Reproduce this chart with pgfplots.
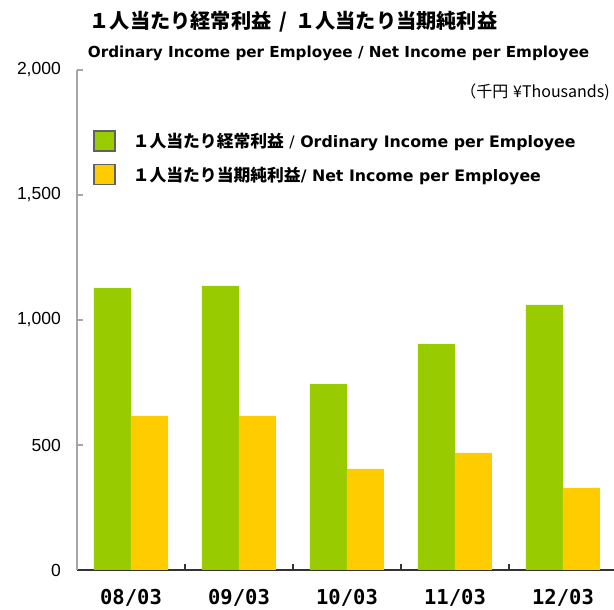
\documentclass[border=0pt]{standalone}
\usepackage{fontspec}
\setmainfont{DejaVu Sans}
\newfontfamily\jp{Noto Sans CJK JP}
\newfontfamily\mono{DejaVu Sans Mono}
\newfontfamily\lib{Liberation Sans}
\usepackage{pgfplots}
\pgfplotsset{compat=1.18}
\definecolor{cgreen}{HTML}{99CC00}
\definecolor{cyellow}{HTML}{FFCC00}
\begin{document}
\begin{tikzpicture}[x=1pt,y=1pt]
\useasboundingbox (0,0) rectangle (614,610);
\node[inner sep=0pt] at (293.5,588) {\jp\bfseries\fontsize{20.2}{20.2}\selectfont １人当たり経常利益\hspace{0.4em}/\hspace{0.4em}１人当たり当期純利益};
\node[inner sep=0pt] at (338.5,557) {\bfseries\fontsize{15.2}{15.2}\selectfont Ordinary Income per Employee / Net Income per Employee};
\node[inner sep=0pt, anchor=east] at (610,518) {\jp\fontsize{16}{16}\selectfont （千円\hspace{0.3em}¥Thousands)};
\begin{axis}[
  scale only axis, width=540pt, height=500pt,
  at={(77pt,40pt)}, anchor=south west,
  xmin=-0.5, xmax=4.5, ymin=0, ymax=2000,
  ybar=0pt, bar width=37pt,
  axis x line*=bottom, axis y line*=left,
  x axis line style={-, draw=black!80, line width=1.6pt},
  y axis line style={-, draw=black!35, line width=1.6pt},
  tick align=inside, major tick length=6pt, minor tick length=6pt,
  ytick={0,500,1000,1500,2000},
  ytick style={draw=black!35, line width=1.2pt},
  yticklabel style={font=\lib\fontsize{17.5}{17.5}\selectfont, anchor=east, inner sep=0pt, xshift=-16pt},
  /pgf/number format/1000 sep={,},
  /pgf/number format/assume math mode=true,
  xtick={0,1,2,3,4},
  xticklabels={08/03,09/03,10/03,11/03,12/03},
  x tick style={draw=none},
  minor xtick={0.5,1.5,2.5,3.5},
  minor x tick style={draw=black!80, line width=1.2pt},
  xticklabel style={font=\mono\bfseries\fontsize{20.5}{20.5}\selectfont, anchor=base, inner sep=0pt, yshift=-35pt},
  legend style={at={(0.0296,0.88)}, anchor=north west, draw=none, fill=none, inner sep=0pt,
    font=\bfseries\fontsize{15.8}{15.8}\selectfont, row sep=12pt, cells={anchor=west}},
  legend image code/.code={\draw[#1, draw=black!62, line width=1.6pt] (0pt,-10pt) rectangle (21pt,10pt);},
  legend cell align=left,
  /tikz/every odd column/.append style={column sep=15pt},
]
\addplot[fill=cgreen, draw=none] coordinates {(0,1128) (1,1136) (2,744) (3,904) (4,1060)};
\addplot[fill=cyellow, draw=none] coordinates {(0,616) (1,616) (2,404) (3,468) (4,328)};
\legend{{\jp\bfseries\fontsize{16.8}{16.8}\selectfont １人当たり経常利益} {\mdseries /} Ordinary Income per Employee,
        {\jp\bfseries\fontsize{16.8}{16.8}\selectfont １人当たり当期純利益}/ Net Income per Employee}
\end{axis}
\end{tikzpicture}
\end{document}
